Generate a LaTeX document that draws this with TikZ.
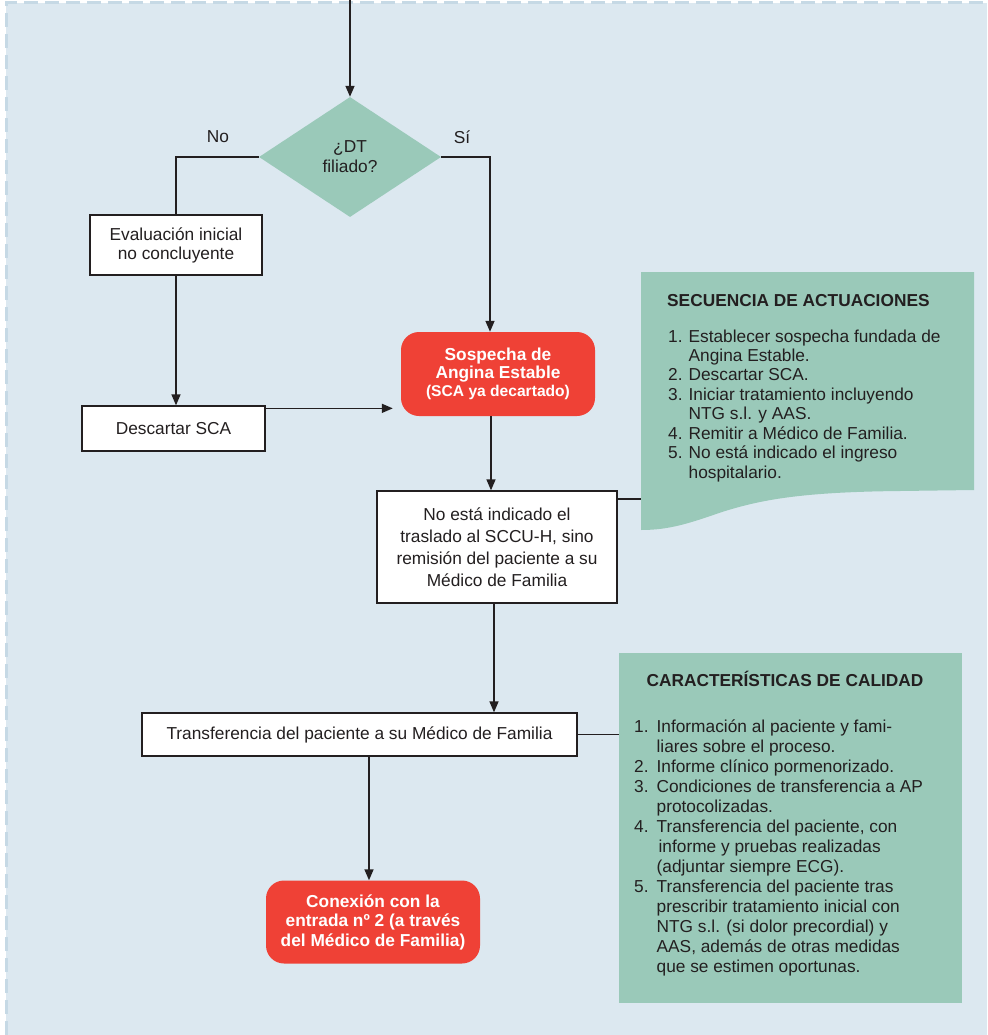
\documentclass[tikz,border=0pt]{standalone}
\usepackage{fontspec}
\setmainfont{Liberation Sans}
\usetikzlibrary{arrows.meta,shapes.geometric}
\definecolor{bgblue}{HTML}{DCE8F0}
\definecolor{bordblue}{HTML}{C6D9E5}
\definecolor{sgreen}{HTML}{9AC9B9}
\definecolor{sred}{HTML}{EF4136}
\definecolor{ink}{HTML}{231F20}
\newcommand{\fs}{\fontsize{17.3}{19}\selectfont}
\begin{document}
\begin{tikzpicture}[x=1pt,y=-1pt,
  font=\fs,
  box/.style={draw=ink, line width=1.3pt, fill=white, align=center, inner sep=0pt, text=ink},
  redbox/.style={fill=sred, rounded corners=18pt, align=center, text=white, inner sep=0pt,
     font=\bfseries\fontsize{17.3}{18}\selectfont},
  conn/.style={draw=ink, line width=1.5pt},
  arr/.style={conn, -{Triangle[length=11pt,width=9pt]}},
  lbl/.style={text=ink, inner sep=0pt},
  gbox/.style={fill=sgreen, inner sep=0pt},
]
\useasboundingbox (0,0) rectangle (987,1035);
\fill[bgblue] (6,3) rectangle (987,1035);
\draw[bordblue, line width=3pt, dash pattern=on 14pt off 7pt] (6,1035) -- (6,3) -- (987,3);

% green box 1 (wavy bottom)
\fill[sgreen] (641,272) -- (974,272) -- (974,490) -- (900,491)
  .. controls (800,492) and (760,500) .. (722,512)
  .. controls (690,523) and (670,530) .. (641,530) -- cycle;
\coordinate (g1w) at (641,499);
\node[lbl, anchor=base west, font=\bfseries\fs] (g1title) at (667,306) {SECUENCIA DE ACTUACIONES};
\node[lbl, anchor=base west] (g1list) at (668,342) {\fontsize{17.3}{19.45}\selectfont
\begin{tabular}[t]{@{}l@{\hspace{6pt}}l@{}}
1. & Establecer sospecha fundada de\\
   & Angina Estable.\\
2. & Descartar SCA.\\
3. & Iniciar tratamiento incluyendo\\
   & NTG s.l. y AAS.\\
4. & Remitir a Médico de Familia.\\
5. & No está indicado el ingreso\\
   & hospitalario.
\end{tabular}};

% green box 2
\node[gbox, anchor=north west, minimum width=343pt, minimum height=350pt] (g2) at (619,653) {};
\node[lbl, anchor=base, font=\bfseries\fs] (g2title) at (785,686) {CARACTERÍSTICAS DE CALIDAD};
\node[lbl, anchor=base west] (g2list) at (634,732) {\fontsize{17.3}{20}\selectfont
\begin{tabular}[t]{@{}l@{\hspace{8pt}}l@{}}
1. & Información al paciente y fami-\\
   & liares sobre el proceso.\\
2. & Informe clínico pormenorizado.\\
3. & Condiciones de transferencia a AP\\
   & protocolizadas.\\
4. & Transferencia del paciente, con\\
   & \hspace{2pt}informe y pruebas realizadas\\
   & (adjuntar siempre ECG).\\
5. & Transferencia del paciente tras\\
   & prescribir tratamiento inicial con\\
   & NTG s.l. (si dolor precordial) y\\
   & AAS, además de otras medidas\\
   & que se estimen oportunas.
\end{tabular}};

% flow nodes
\coordinate (top) at (350,0);
\node[diamond, fill=sgreen, minimum width=182pt, minimum height=120pt, inner sep=0pt,
  align=center, text=ink, font=\fontsize{17.3}{20}\selectfont] (dt) at (350,157) {¿DT\\filiado?};
\node[lbl] (no) at (218,137) {No};
\node[lbl] (si) at (462,137) {Sí};
\node[box, minimum width=172pt, minimum height=60pt] (eval) at (176,245) {Evaluación inicial\\no concluyente};
\node[box, minimum width=183pt, minimum height=45pt] (desc) at (173.5,428.5) {Descartar SCA};
\node[redbox, minimum width=194pt, minimum height=84pt] (sosp) at (498,374)
  {Sospecha de\\Angina Estable\\{\fontsize{15.6}{17}\selectfont(SCA ya decartado)}};
\node[box, minimum width=240pt, minimum height=112pt, font=\fontsize{17.3}{22}\selectfont] (noesta) at (497,547)
  {No está indicado el\\traslado al SCCU-H, sino\\remisión del paciente a su\\Médico de Familia};
\node[box, minimum width=435pt, minimum height=43pt] (transf) at (359.5,734.5)
  {Transferencia del paciente a su Médico de Familia};
\node[redbox, minimum width=214pt, minimum height=83pt, font=\bfseries\fontsize{17.3}{19.5}\selectfont] (conex) at (373,922)
  {Conexión con la\\entrada nº 2 (a través\\del Médico de Familia)};

% connectors
\draw[arr] (top) -- (dt.north);
\draw[conn] (dt.west) -| (eval.north);
\draw[arr] (eval.south) -- (eval.south |- desc.north);
\draw[arr, shorten >=8pt] ([yshift=-3pt]desc.north east) -- ([yshift=-3pt]desc.north east -| sosp.west);
\draw[arr] (dt.east) -| ([xshift=-8pt]sosp.north);
\draw[arr] ([xshift=-7pt]sosp.south) -- ([xshift=-7pt]sosp.south |- noesta.north);
\draw[conn] (noesta.east |- g1w) -- (g1w);
\draw[arr] ([xshift=-3pt]noesta.south) -- ([xshift=-3pt]noesta.south |- transf.north);
\draw[conn] (transf.east) -- (transf.east -| g2.west);
\draw[arr] ([xshift=9.5pt]transf.south) -- ([xshift=9.5pt]transf.south |- conex.north);
\end{tikzpicture}
\end{document}
